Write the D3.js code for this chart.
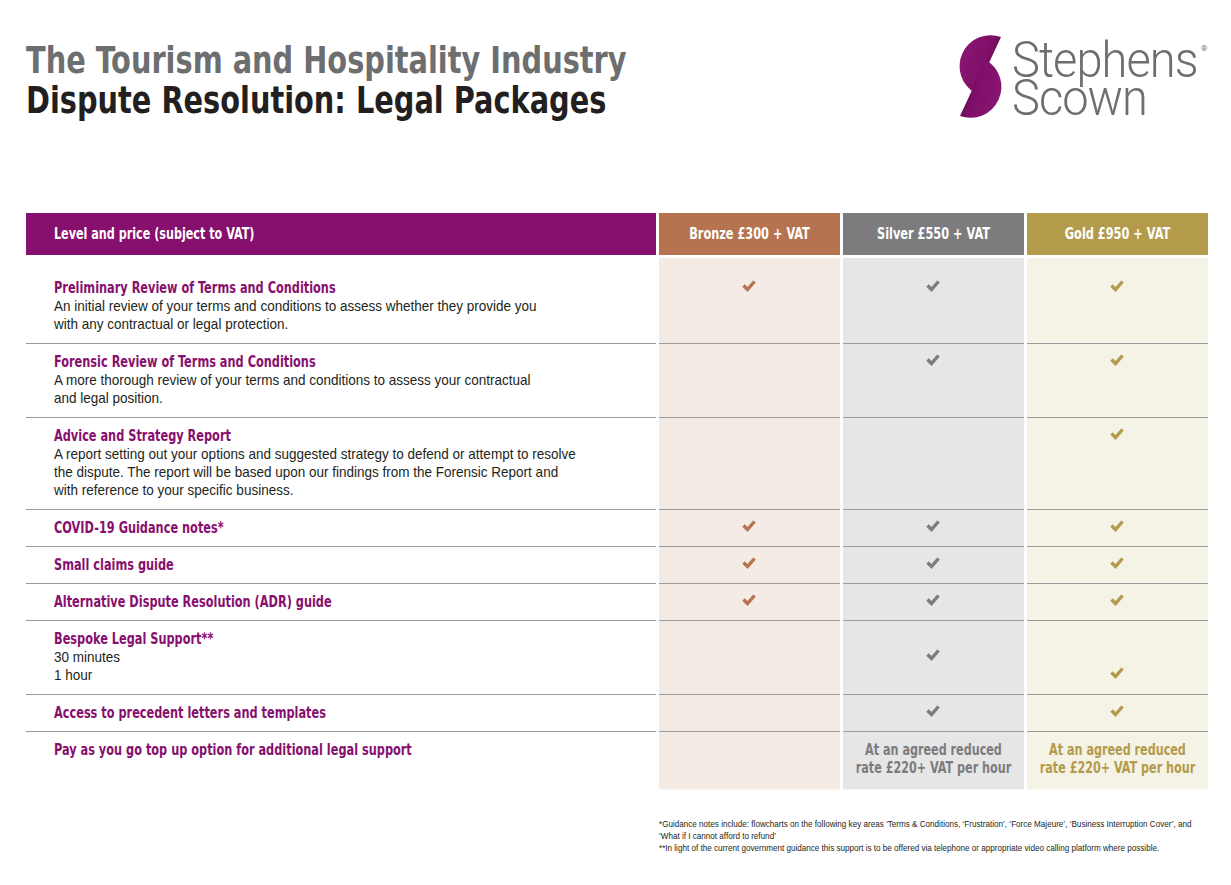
<!DOCTYPE html>
<html><head><meta charset="utf-8">
<script src="https://cdn.jsdelivr.net/npm/d3@7"></script>
<style>
html,body{margin:0;padding:0;background:#fff;}
svg{display:block;}
</style></head>
<body>
<svg id="chart" width="1231" height="885"></svg>
<script>
// ---------- data ----------
const titleLines = ["The Tourism and Hospitality Industry", "Dispute Resolution: Legal Packages"];
const headerLabel = "Level and price (subject to VAT)";
const packages = ["Bronze £300 + VAT", "Silver £550 + VAT", "Gold £950 + VAT"];
const features = [
  "Preliminary Review of Terms and Conditions",
  "Forensic Review of Terms and Conditions",
  "Advice and Strategy Report",
  "COVID-19 Guidance notes*",
  "Small claims guide",
  "Alternative Dispute Resolution (ADR) guide",
  "Bespoke Legal Support**",
  "Access to precedent letters and templates",
  "Pay as you go top up option for additional legal support"
];
const descriptions = [
  ["An initial review of your terms and conditions to assess whether they provide you", "with any contractual or legal protection."],
  ["A more thorough review of your terms and conditions to assess your contractual", "and legal position."],
  ["A report setting out your options and suggested strategy to defend or attempt to resolve", "the dispute.  The report will be based upon our findings from the Forensic Report and", "with reference to your specific business."],
  [], [], [],
  ["30 minutes", "1 hour"],
  [], []
];
// text line (within the row) on which each package's tick sits; null = not included
const bronzeTicks = [0, null, null, 0, 0, 0, null, null, null];
const silverTicks = [0, 0, null, 0, 0, 0, 1, 0, null];
const goldTicks   = [0, 0, 0, 0, 0, 0, 2, 0, null];
const rateNote = ["At an agreed reduced", "rate £220+ VAT per hour"];
const rateCells = [null, rateNote, rateNote]; // last row, per package
const footnotes = [
  "*Guidance notes include: flowcharts on the following key areas ‘Terms & Conditions, ‘Frustration’, ‘Force Majeure’, ‘Business Interruption Cover’, and",
  "‘What if I cannot afford to refund’",
  "**In light of the current government guidance this support is to be offered via telephone or appropriate video calling platform where possible."
];
const logoWords = ["Stephens", "Scown"];

// ---------- style ----------
const PURPLE = "#870f6e";
const headFill = ["#b5734f", "#7c7c7e", "#b39b4b"];
const bodyFill = ["#f4ebe4", "#e6e6e6", "#f5f2e6"];
const COND = "'Liberation Sans Narrow','DejaVu Sans Condensed',sans-serif";
const REG = "'Liberation Sans',Arial,sans-serif";

// horizontally squeeze texts about their own x anchor (condensed-type look)
function squeeze(sel, sx) {
  sel.each(function () {
    const xv = +this.getAttribute("x") || 0;
    this.setAttribute("transform", `translate(${xv * (1 - sx)},0) scale(${sx},1)`);
  });
  return sel;
}

const svg = d3.select("#chart");

// ---------- title ----------
svg.selectAll("text.title").data(titleLines).join("text")
  .attr("class", "title")
  .attr("x", 26).attr("y", (d, i) => 73 + i * 40)
  .attr("font-family", COND).attr("font-weight", "bold").attr("font-size", 38)
  .attr("fill", (d, i) => i === 0 ? "#6d6e70" : "#231f20")
  .text(d => d)
  .call(squeeze, 0.843);

// ---------- logo ----------
const defs = svg.append("defs");
const g1 = defs.append("linearGradient").attr("id", "lgTop").attr("x1", 0).attr("y1", 0).attr("x2", 1).attr("y2", 0.4);
g1.append("stop").attr("offset", 0).attr("stop-color", "#8c1775");
g1.append("stop").attr("offset", 0.7).attr("stop-color", "#7e0f68");
g1.append("stop").attr("offset", 1).attr("stop-color", "#5a0a4a");
const g2 = defs.append("linearGradient").attr("id", "lgBot").attr("x1", 1).attr("y1", 1).attr("x2", 0).attr("y2", 0.6);
g2.append("stop").attr("offset", 0).attr("stop-color", "#8c1775");
g2.append("stop").attr("offset", 0.7).attr("stop-color", "#7e0f68");
g2.append("stop").attr("offset", 1).attr("stop-color", "#5a0a4a");
const logo = svg.append("g");
logo.append("path").attr("d", "M1001,37 L975,93 A31,31 0 0 1 1001,37 Z").attr("fill", "url(#lgTop)");
logo.append("path").attr("d", "M960,116 L986,60 A31,31 0 0 1 960,116 Z").attr("fill", "url(#lgBot)");
logo.selectAll("text.lw").data(logoWords).join("text")
  .attr("class", "lw")
  .attr("x", 1012).attr("y", (d, i) => 77 + i * 38)
  .attr("font-family", "Roboto,'Open Sans',sans-serif").attr("font-weight", 300).attr("font-size", 50)
  .attr("letter-spacing", -1)
  .attr("fill", "#6d6e70").text(d => d)
  .call(squeeze, 0.94);
logo.append("text").attr("x", 1201).attr("y", 51).attr("font-size", 8)
  .attr("font-family", "Roboto,sans-serif").attr("fill", "#6d6e70").text("®");

// ---------- table geometry ----------
const x = d3.scaleBand().domain(packages).range([659, 1208]).paddingInner(0.0163).paddingOuter(0);
const headTop = 213, headH = 42, bodyTop = 258, firstRow = 268.5, lineH = 18, rowUnit = 18.5;
const rowLines = features.map((f, i) => 1 + Math.max(descriptions[i].length, i === features.length - 1 ? rateNote.length - 1 : 0));
const rowH = rowLines.map(n => rowUnit * (n + 1));
const rowTop = rowH.map((h, i) => firstRow + d3.sum(rowH.slice(0, i)));
const bodyBottom = rowTop[rowTop.length - 1] + rowH[rowH.length - 1] + 3;

// header
svg.append("rect").attr("x", 26).attr("y", headTop).attr("width", 630).attr("height", headH).attr("fill", PURPLE);
svg.append("text").attr("x", 54).attr("y", headTop + 26)
  .attr("font-family", COND).attr("font-weight", "bold").attr("font-size", 15).attr("fill", "#fff").text(headerLabel)
  .call(squeeze, 0.83);
svg.selectAll("rect.ph").data(packages).join("rect").attr("class", "ph")
  .attr("x", d => x(d)).attr("y", headTop).attr("width", x.bandwidth()).attr("height", headH)
  .attr("fill", (d, i) => headFill[i]);
svg.selectAll("text.ph").data(packages).join("text").attr("class", "ph")
  .attr("x", d => x(d) + x.bandwidth() / 2).attr("y", headTop + 26).attr("text-anchor", "middle")
  .attr("font-family", COND).attr("font-weight", "bold").attr("font-size", 15).attr("fill", "#fff").text(d => d)
  .call(squeeze, 0.84);

// column backgrounds
svg.selectAll("rect.pb").data(packages).join("rect").attr("class", "pb")
  .attr("x", d => x(d)).attr("y", bodyTop).attr("width", x.bandwidth()).attr("height", bodyBottom - bodyTop)
  .attr("fill", (d, i) => bodyFill[i]);

// separators
const sepYs = rowTop.slice(1).map(v => Math.round(v));
const segs = [[26, 656]].concat(packages.map(p => [x(p), x(p) + x.bandwidth()]));
sepYs.forEach(yv => {
  segs.forEach(s => svg.append("line").attr("x1", s[0]).attr("x2", s[1])
    .attr("y1", yv + 0.5).attr("y2", yv + 0.5).attr("stroke", "#9b9b9b").attr("stroke-width", 1));
});

// row texts
const rows = svg.selectAll("g.row").data(features).join("g").attr("class", "row")
  .attr("transform", (d, i) => `translate(0,${Math.round(rowTop[i])})`);
rows.append("text").attr("x", 54).attr("y", 24)
  .attr("font-family", COND).attr("font-weight", "bold").attr("font-size", 15).attr("fill", PURPLE).text(d => d)
  .call(squeeze, 0.84);
rows.each(function (d, i) {
  d3.select(this).selectAll("text.desc").data(descriptions[i]).join("text").attr("class", "desc")
    .attr("x", 54).attr("y", (t, j) => 24 + lineH * (j + 1))
    .attr("font-family", REG).attr("font-size", 14).attr("fill", "#231f20").text(t => t)
    .call(squeeze, 0.965);
});

// ticks
const tickSets = [bronzeTicks, silverTicks, goldTicks];
const tickPath = "M-6,-1.5 L-2,2.5 L5,-5.5";
tickSets.forEach((ticks, k) => {
  const cx = x(packages[k]) + x.bandwidth() / 2;
  svg.selectAll(`path.tick${k}`).data(ticks.map((t, i) => ({ t, i })).filter(o => o.t !== null)).join("path")
    .attr("class", `tick${k}`)
    .attr("transform", o => `translate(${cx},${Math.round(rowTop[o.i]) + 18 + o.t * lineH})`)
    .attr("d", tickPath).attr("fill", "none").attr("stroke", headFill[k])
    .attr("stroke-width", 3.4).attr("stroke-linejoin", "miter");
});

// rate notes in last row
const lastTop = Math.round(rowTop[rowTop.length - 1]);
rateCells.forEach((lines, k) => {
  if (!lines) return;
  const cx = x(packages[k]) + x.bandwidth() / 2;
  svg.selectAll(`text.rate${k}`).data(lines).join("text").attr("class", `rate${k}`)
    .attr("x", cx).attr("y", (t, j) => lastTop + 24 + j * lineH).attr("text-anchor", "middle")
    .attr("font-family", COND).attr("font-weight", "bold").attr("font-size", 15)
    .attr("fill", headFill[k]).text(t => t)
    .call(squeeze, 0.83);
});

// footnotes
svg.selectAll("text.fn").data(footnotes).join("text").attr("class", "fn")
  .attr("x", 659).attr("y", (d, i) => 827 + i * 12)
  .attr("font-family", REG).attr("font-size", 8.4).attr("fill", "#231f20").text(d => d)
  .call(squeeze, 0.965);
</script>
</body></html>
